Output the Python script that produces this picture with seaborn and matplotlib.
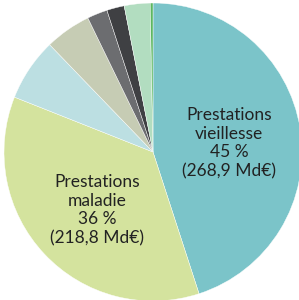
import matplotlib
matplotlib.use('Agg')
import matplotlib.pyplot as plt
import seaborn as sns

# parts of the pie, in %, clockwise from the top
categories = ['Prestations vieillesse', 'Prestations maladie', 'Autre 1', 'Autre 2',
              'Autre 3', 'Autre 4', 'Autre 5', 'Autre 6']
shares = [45, 36, 6.8, 5.0, 2.2, 1.9, 2.8, 0.3]
colors = ['#7BC4C9', '#D4E39E', '#BCDFE2', '#C6CCB4', '#6C6D70', '#3F4043', '#B2DDC0', '#5DB761']
labels = ['Prestations\nvieillesse\n45 %\n(268,9 Md€)',
          'Prestations\nmaladie\n36 %\n(218,8 Md€)']

sns.set_theme(style='white')
plt.rcParams['font.family'] = ['Lato', 'DejaVu Sans']

fig = plt.figure(figsize=(2.99, 3.0), dpi=100)
# pie centre at (153, 152) px, radius 149 px
ax = fig.add_axes([4 / 299, -1 / 300, 298 / 299, 298 / 300])
wedges, _ = ax.pie(shares, colors=colors, startangle=90, counterclock=False,
                   radius=1, wedgeprops={'linewidth': 0.3, 'edgecolor': 'white'})
for w in wedges:
    w.set_clip_on(False)
ax.set_xlim(-1, 1)
ax.set_ylim(-1, 1)
ax.set_aspect('equal')
ax.axis('off')

ax.text(0.51, 0.06, labels[0], ha='center', va='center', fontsize=12.5,
        color='#222222', linespacing=1.22)
ax.text(-0.376, -0.39, labels[1], ha='center', va='center', fontsize=12.5,
        color='#222222', linespacing=1.22)

plt.savefig('out.png', dpi=100)
